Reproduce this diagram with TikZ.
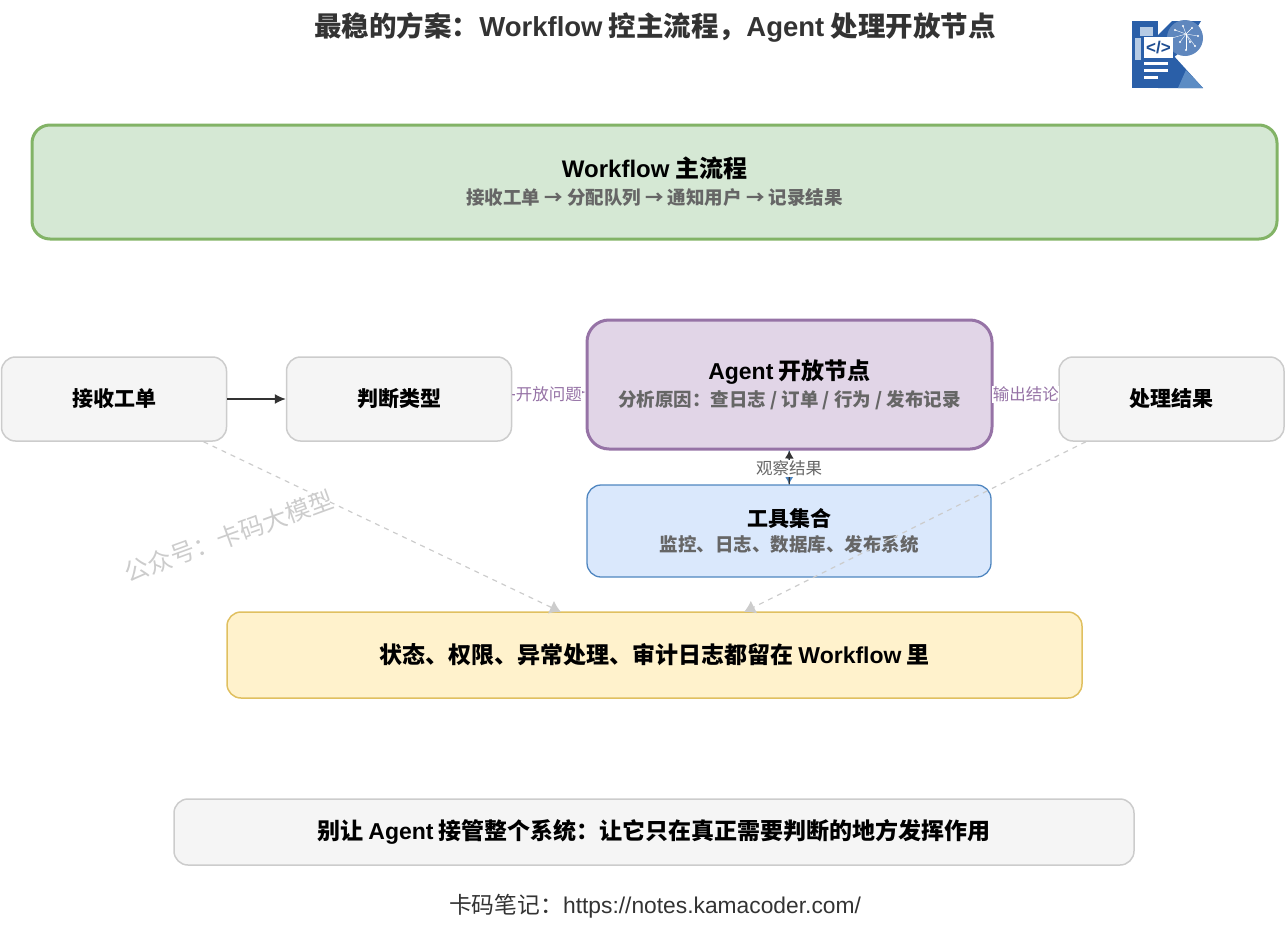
\documentclass[tikz,border=0pt]{standalone}
\usepackage{xcolor}
\usepackage{fontspec}
\setmainfont{Noto Sans CJK SC}
\newfontfamily\latfont{Liberation Sans}
\usetikzlibrary{arrows.meta}

\definecolor{greenfill}{HTML}{D5E8D4}
\definecolor{greenline}{HTML}{82B366}
\definecolor{purplefill}{HTML}{E1D5E7}
\definecolor{purpleline}{HTML}{9673A6}
\definecolor{bluefill}{HTML}{DAE8FC}
\definecolor{blueline}{HTML}{4F86C0}
\definecolor{yellowfill}{HTML}{FFF2CC}
\definecolor{yellowline}{HTML}{E0C060}
\definecolor{greyfill}{HTML}{F5F5F5}
\definecolor{greyline}{HTML}{CCCCCC}
\definecolor{subtext}{HTML}{666666}
\definecolor{darktext}{HTML}{333333}
\definecolor{logoblue}{HTML}{2A5FA8}
\definecolor{logodark}{HTML}{1F4E92}
\definecolor{logolight}{HTML}{5C8CC4}

\newcommand{\lat}[1]{{\latfont #1}}
\newcommand{\subt}[1]{{\fontsize{18.5}{22}\selectfont\color{subtext}#1}}
\newcommand{\zcolon}{\char"FF1A\relax}
\newcommand{\zcomma}{\char"FF0C\relax}

\tikzset{
  boxbase/.style={draw, rounded corners=14pt, align=center, font=\bfseries\fontsize{21}{27}\selectfont, inner sep=0pt},
  greybox/.style={boxbase, fill=greyfill, draw=greyline, line width=1.5pt, minimum width=225pt},
  flowbox/.style={boxbase, fill=greenfill, draw=greenline, line width=3pt, rounded corners=18pt, minimum width=1245pt, minimum height=114pt},
  agentbox/.style={boxbase, fill=purplefill, draw=purpleline, line width=3pt, rounded corners=22pt, minimum width=405pt, minimum height=129pt},
  toolbox/.style={boxbase, fill=bluefill, draw=blueline, line width=1.3pt, minimum width=404pt, minimum height=92pt},
  statebox/.style={boxbase, fill=yellowfill, draw=yellowline, line width=1.5pt, minimum width=855pt, minimum height=86pt, font=\bfseries\fontsize{23}{27}\selectfont},
  edgelabel/.style={fill=white, inner sep=0.5pt, font=\fontsize{16.5}{18}\selectfont},
  flowline/.style={-{Latex[length=11pt,width=10pt]}, line width=1.3pt},
  shortline/.style={-{Latex[length=8pt,width=9pt]}, line width=1.3pt},
  softline/.style={color=greyline, line width=1.2pt, dash pattern=on 5pt off 5pt, -{Latex[length=11pt,width=14pt]}},
}

\begin{document}
\begin{tikzpicture}[x=1pt, y=-1pt]
\useasboundingbox (0,0) rectangle (1287,926);

% title and logo
\node[font=\bfseries\fontsize{27.5}{30}\selectfont, text=darktext] (title) at (655,27) {最稳的方案\zcolon\lat{Workflow} 控主流程\zcomma\lat{Agent} 处理开放节点};

\fill[logoblue] (1132,21) -- (1158,21) -- (1158,88) -- (1132,88) -- cycle;
\fill[logoblue] (1158,35) -- (1172,21) -- (1201,21) -- (1185,48) -- (1173,58) -- (1158,58) -- cycle;
\fill[logoblue] (1158,58) -- (1173,55) -- (1203,88) -- (1158,88) -- cycle;
\fill[logolight] (1186,70) -- (1203,88) -- (1178,88) -- cycle;
\fill[logoblue!75] (1185,38) circle (18);
\fill[logolight!45] (1140,27) rectangle (1153,36);
\fill[logolight!45] (1135,38) rectangle (1141,60);
\foreach \px/\py in {1175/30,1183/26,1192/28,1198/36,1190/42,1180/42,1195/46,1186/50,1172/38} {
  \draw[white, line width=0.4pt] (1186,34) -- (\px,\py);
  \fill[white] (\px,\py) circle (1.2);
}
\fill[white] (1144,37) rectangle (1173,58);
\node[font=\bfseries\fontsize{17}{17}\selectfont, text=logodark, inner sep=0pt] (logocode) at (1158.5,47.5) {\lat{</>}};
\fill[white] (1144,62) rectangle (1168,65);
\fill[white] (1144,69) rectangle (1168,72);
\fill[white] (1144,76) rectangle (1158,79);

% boxes
\node[flowbox] (flow) at (654.5,182) {\fontsize{24}{31}\selectfont\lat{Workflow} 主流程\\[0pt]\subt{接收工单 → 分配队列 → 通知用户 → 记录结果}};
\node[greybox, minimum height=84pt] (recv) at (114,399) {接收工单};
\node[greybox, minimum height=84pt] (judge) at (399,399) {判断类型};
\node[agentbox] (agent) at (789.5,384.5) {\fontsize{23}{29}\selectfont\lat{Agent} 开放节点\\[0pt]\subt{分析原因\zcolon 查日志 / 订单 / 行为 / 发布记录}};
\node[greybox, minimum height=84pt] (done) at (1171.5,399) {处理结果};
\node[toolbox] (tools) at (789,531) {工具集合\\[-2pt]\subt{监控、日志、数据库、发布系统}};
\node[statebox] (state) at (654.5,655) {状态、权限、异常处理、审计日志都留在 \lat{Workflow} 里};
\node[greybox, minimum width=960pt, minimum height=66pt, font=\bfseries\fontsize{23}{27}\selectfont] (note) at (654,832) {别让 \lat{Agent} 接管整个系统\zcolon 让它只在真正需要判断的地方发挥作用};

\coordinate (stateL) at (561,612);
\coordinate (stateR) at (744,612);

% connectors
\path[flowline, color=darktext] (recv) edge (judge);
\path[flowline, color=purpleline] (judge) edge node[edgelabel, text=purpleline, pos=0.5, yshift=-1pt]{开放问题} (agent);
\path[flowline, color=purpleline] (agent) edge node[edgelabel, text=purpleline, pos=0.5, yshift=-1pt]{输出结论} (done);
\path[shortline, color=blueline] (agent) edge (tools);
\path[shortline, color=darktext] (tools) edge node[edgelabel, text=subtext, pos=0.5, yshift=-1pt]{观察结果} (agent);

\path[softline] (recv) edge (stateL);
\path[softline] (done) edge (stateR);

% footer and mark
\node[font=\fontsize{22.8}{26}\selectfont, text=darktext] (site) at (655,906) {卡码笔记\zcolon\lat{https://notes.kamacoder.com/}};
\node[rotate=20, font=\fontsize{24.5}{28}\selectfont, text=greyline] (mark) at (229,536) {公众号\zcolon 卡码大模型};

\end{tikzpicture}
\end{document}
